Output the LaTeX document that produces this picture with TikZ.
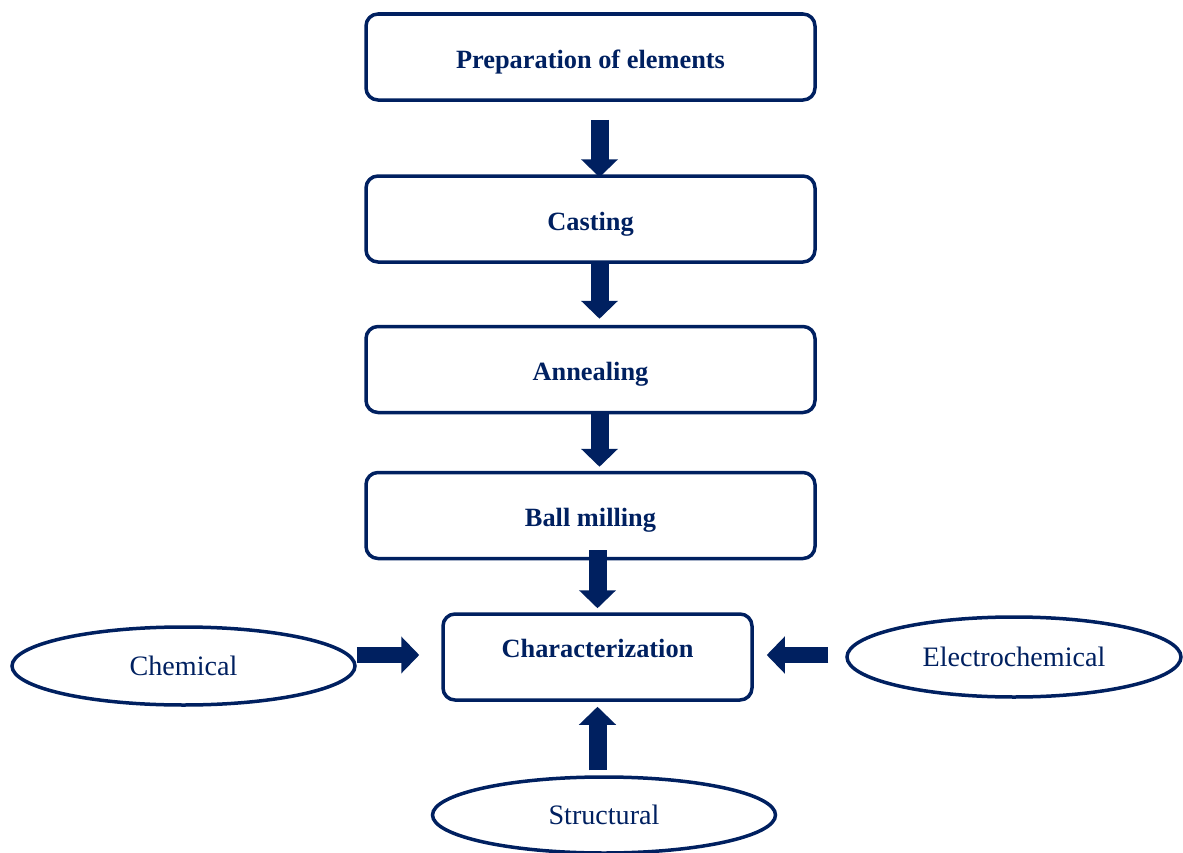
\documentclass[tikz,border=0pt]{standalone}
\usepackage{fontspec}
\setmainfont{Liberation Serif}
\usetikzlibrary{arrows.meta,shapes.geometric}
\definecolor{navy}{RGB}{0,32,96}

\begin{document}
\begin{tikzpicture}[line width=0.07cm,
	stage/.style={draw=navy, rounded corners=0.24cm, minimum width=8.98cm, minimum height=1.72cm, inner sep=0pt, text height=0.55cm, text depth=0.1cm, text=navy, font=\fontsize{15}{18}\selectfont\bfseries},
	method/.style={draw=navy, ellipse, minimum width=6.86cm, minimum height=1.56cm, inner sep=0pt, text=navy, font=\fontsize{16}{19}\selectfont},
	flow/.style={navy, line width=0.36cm, -{Triangle[width=0.72cm,length=0.36cm]}}]
\useasboundingbox (0,0) rectangle (23.66,-17.06);

\node[stage] (prep) at (11.81,-1.14) {Preparation of elements};
\node[stage] (cast) at (11.81,-4.38) {Casting};
\node[stage] (anneal) at (11.81,-7.39) {Annealing};
\node[stage] (mill) at (11.81,-10.31) {Ball milling};
\node[stage, minimum width=6.18cm, text depth=0.53cm] (char) at (11.95,-13.14) {Characterization};

\node[method] (chem) at (3.67,-13.32) {Chemical};
\node[method, minimum width=6.68cm, minimum height=1.6cm] (elec) at (20.28,-13.14) {Electrochemical};
\node[method, minimum height=1.52cm] (struct) at (12.08,-16.3) {Structural};

\draw[flow, shorten <=0.36cm, shorten >=-0.06cm] ([xshift=0.18cm]prep.south) -- ([xshift=0.18cm]cast.north);
\draw[flow, shorten >=0.12cm] ([xshift=0.18cm]cast.south) -- ([xshift=0.18cm]anneal.north);
\draw[flow, shorten >=0.08cm] ([xshift=0.18cm]anneal.south) -- ([xshift=0.18cm]mill.north);
\draw[flow, shorten <=-0.2cm, shorten >=0.08cm] (char.north |- mill.south) -- (char.north);

\draw[flow, line width=0.32cm, shorten >=0.44cm] ([yshift=0.04cm]chem.east |- char.west) -- ([yshift=0.04cm]char.west);
\draw[flow, line width=0.32cm, shorten <=0.34cm, shorten >=0.26cm] ([yshift=0.04cm]elec.west |- char.east) -- ([yshift=0.04cm]char.east);
\draw[flow, shorten <=0.1cm, shorten >=0.1cm] (char.south |- struct.north) -- (char.south);
\end{tikzpicture}
\end{document}
